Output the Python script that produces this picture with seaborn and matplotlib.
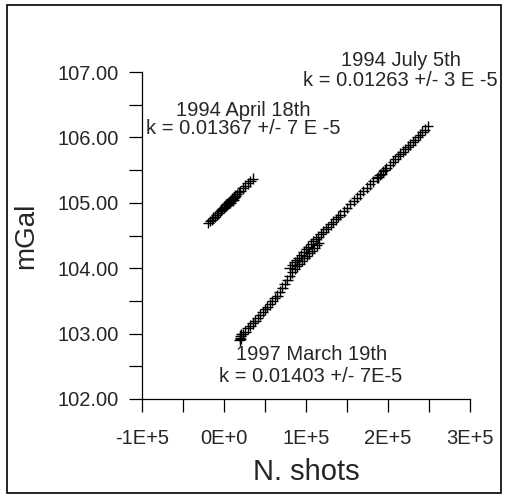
import numpy as np
import pandas as pd
import matplotlib
matplotlib.use("Agg")
import matplotlib.pyplot as plt
from matplotlib.patches import Rectangle
from matplotlib.ticker import MultipleLocator, FixedLocator
import seaborn as sns

# 1994 April 18th
april_shots = [-19000, -17000, -15000, -13000, -11000, -9000, -7000, -5000, -3500, -2000,
               -500, 1000, 2000, 3000, 4000, 5000, 5500, 6000, 7000, 7500, 8000, 9000,
               9500, 10000, 10500, 11000, 11500, 12000, 13000, 14000, 16000, 18000, 20000,
               23000, 26000, 29000, 32000, 35000]
april_mgal = [104.69, 104.72, 104.74, 104.77, 104.79, 104.82, 104.84, 104.87, 104.89, 104.91,
              104.92, 104.94, 104.96, 104.97, 104.98, 104.99, 105.01, 105.00, 105.02, 105.00, 105.03, 105.04,
              105.06, 105.05, 105.04, 105.07, 105.05, 105.08, 105.09, 105.11, 105.13, 105.16, 105.18,
              105.22, 105.26, 105.30, 105.33, 105.37]

# 1994 July 5th
july_shots = [80000, 83000, 86000, 88500, 91000, 94000, 97000, 100000, 103000, 106000,
              109000, 112000, 115000, 118000, 121000, 124000, 127000, 130000, 133000, 136000,
              139000, 142000, 146000, 150000, 154000, 158000, 162000, 166000, 170000, 174000,
              178000, 182000, 186000, 188000, 190000, 192000, 194000, 196000, 198000, 202000,
              206000, 209000, 212000, 215000, 218000, 221000, 224000, 227000, 230000, 233000,
              236000, 239000, 242000, 245000, 248500]
july_mgal = [104.01, 104.05, 104.09, 104.12, 104.16, 104.20, 104.25, 104.29, 104.33, 104.37,
             104.41, 104.44, 104.48, 104.52, 104.56, 104.60, 104.63, 104.67, 104.71, 104.75,
             104.79, 104.82, 104.87, 104.92, 104.98, 105.03, 105.08, 105.13, 105.18, 105.23,
             105.28, 105.33, 105.38, 105.39, 105.43, 105.44, 105.48, 105.50, 105.53, 105.58,
             105.63, 105.67, 105.71, 105.75, 105.78, 105.82, 105.86, 105.89, 105.93, 105.96,
             106.01, 106.04, 106.09, 106.12, 106.17]

# 1997 March 19th
march_shots = [19000, 19500, 20000, 20500, 21000, 23000, 26000, 29000, 32000, 35000,
               38000, 41000, 44000, 47000, 50000, 53000, 56000, 59000, 62000, 65000,
               68000, 71000, 74000, 77000, 80000, 83000, 86000, 89000, 92000, 95000,
               98000, 101000, 104000, 107000, 110000, 113000, 116000]
march_mgal = [102.90, 102.94, 102.97, 102.92, 102.99, 102.99, 103.03, 103.08, 103.12, 103.16,
              103.20, 103.24, 103.29, 103.33, 103.37, 103.41, 103.45, 103.50, 103.54, 103.58,
              103.64, 103.70, 103.76, 103.82, 103.88, 103.94, 103.99, 104.03, 104.07, 104.11,
              104.15, 104.19, 104.23, 104.27, 104.31, 104.35, 104.39]

x_ticks = [-100000, 0, 100000, 200000, 300000]
x_tick_labels = ["-1E+5", "0E+0", "1E+5", "2E+5", "3E+5"]
y_ticks = [102, 103, 104, 105, 106, 107]
y_tick_labels = ["102.00", "103.00", "104.00", "105.00", "106.00", "107.00"]

df = pd.DataFrame({
    "shots": april_shots + july_shots + march_shots,
    "mgal": april_mgal + july_mgal + march_mgal,
    "run": (["1994 April 18th"] * len(april_shots) + ["1994 July 5th"] * len(july_shots)
            + ["1997 March 19th"] * len(march_shots)),
})

sns.set_style("ticks")
plt.rcParams["font.family"] = ["Liberation Sans", "DejaVu Sans"]

fig = plt.figure(figsize=(5.05, 5.04), dpi=100)
ax = fig.add_axes([142 / 505, 1 - 399 / 504, 328 / 505, 327 / 504])

sns.scatterplot(data=df, x="shots", y="mgal", hue="run",
                palette={"1994 April 18th": "black", "1994 July 5th": "black",
                         "1997 March 19th": "black"},
                marker="+", s=60, linewidth=1.0, legend=False, ax=ax)

ax.set_xlim(-100000, 300000)
ax.set_ylim(102, 107)
ax.xaxis.set_major_locator(FixedLocator(x_ticks))
ax.set_xticklabels(x_tick_labels)
ax.yaxis.set_major_locator(FixedLocator(y_ticks))
ax.set_yticklabels(y_tick_labels)
ax.xaxis.set_minor_locator(MultipleLocator(50000))
ax.yaxis.set_minor_locator(MultipleLocator(0.5))
ax.tick_params(which="both", direction="out", length=9.5, width=0.9, color="black")
ax.tick_params(axis="x", which="major", pad=12, labelsize=14.5)
ax.tick_params(axis="y", which="major", pad=7, labelsize=14.5)
sns.despine(ax=ax)
for s in ["left", "bottom"]:
    ax.spines[s].set_linewidth(0.9)
    ax.spines[s].set_color("black")

ax.set_xlabel("N. shots", fontsize=21, labelpad=7)
ax.set_ylabel("mGal", fontsize=20, labelpad=13)

fs = 14.5
fig.text(401 / 505, 1 - 60 / 504, "1994 July 5th", ha="center", va="center", fontsize=fs)
fig.text(400 / 505, 1 - 81 / 504, "k = 0.01263 +/- 3 E -5", ha="center", va="center", fontsize=fs)
fig.text(243 / 505, 1 - 110 / 504, "1994 April 18th", ha="center", va="center", fontsize=fs)
fig.text(243 / 505, 1 - 129 / 504, "k = 0.01367 +/- 7 E -5", ha="center", va="center", fontsize=fs)
fig.text(312 / 505, 1 - 355 / 504, "1997 March 19th", ha="center", va="center", fontsize=fs)
fig.text(311 / 505, 1 - 377 / 504, "k = 0.01403 +/- 7E-5", ha="center", va="center", fontsize=fs)

fig.patches.append(Rectangle((7 / 505, 1 - 493 / 504), 494 / 505, 488 / 504,
                             transform=fig.transFigure, fill=False,
                             edgecolor="black", linewidth=1.2))

fig.savefig("out.png", dpi=100)
